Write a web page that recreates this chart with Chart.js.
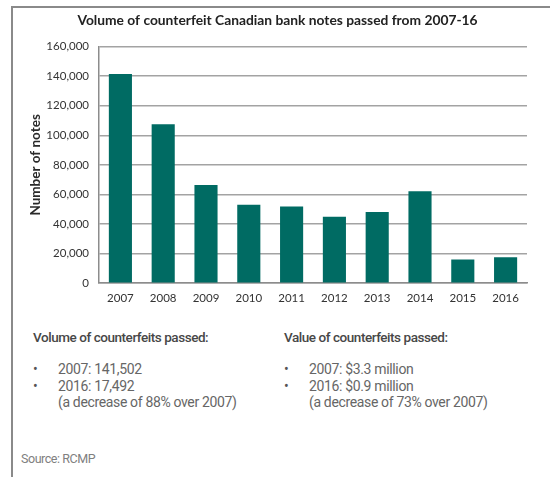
<!DOCTYPE html>
<html>
<head>
<meta charset="utf-8">
<script src="https://cdn.jsdelivr.net/npm/chart.js@4"></script>
<style>
    body { margin: 0; background: #fff; width: 550px; height: 477px; overflow: hidden; position: relative; font-family: Roboto, sans-serif; }
    .cadre { position: absolute; left: 11px; top: 6px; width: 545px; height: 480px; border-top: 2px solid #8a8a8a; border-left: 2px solid #8a8a8a; }
    .zone-graphique { position: absolute; left: 0; top: 0; width: 550px; height: 317px; }
    .bloc { position: absolute; top: 329px; color: #666; font-size: 14px; letter-spacing: -0.35px; }
    .bloc h4 { margin: 0 0 16px 0; font-size: 13.5px; font-weight: 500; color: #474747; letter-spacing: -0.45px; }
    .bloc ul { margin: 0; padding: 0; list-style: none; }
    .bloc li { position: relative; padding-left: 25px; line-height: 16.5px; }
    .bloc li.puce::before { content: "\2022"; position: absolute; left: 0; top: 0; color: #555; }
    .source { position: absolute; left: 21px; top: 451px; font-size: 12.5px; color: #808080; letter-spacing: -0.45px; }
</style>
</head>
<body>
<div class="cadre"></div>
<div class="zone-graphique"><canvas id="notesChart"></canvas></div>

<div class="bloc" style="left: 33px;">
    <h4>Volume of counterfeits passed:</h4>
    <ul>
        <li class="puce">2007: 141,502</li>
        <li class="puce">2016: 17,492</li>
        <li>(a decrease of 88% over 2007)</li>
    </ul>
</div>
<div class="bloc" style="left: 284px;">
    <h4>Value of counterfeits passed:</h4>
    <ul>
        <li class="puce">2007: $3.3 million</li>
        <li class="puce">2016: $0.9 million</li>
        <li>(a decrease of 73% over 2007)</li>
    </ul>
</div>
<div class="source">Source: RCMP</div>

<script>
const annees = ['2007', '2008', '2009', '2010', '2011', '2012', '2013', '2014', '2015', '2016'];
const billets = [141502, 107500, 66400, 53000, 51900, 44900, 48100, 62100, 16100, 17492];
const graduations = [0, 20000, 40000, 60000, 80000, 100000, 120000, 140000, 160000];

const COULEURS = {
    barre: '#006b63',
    grille: '#a3a3a3',
    axe: '#8c8c8c',
    texte: '#333333'
};

Chart.defaults.font.family = 'Lato, "Open Sans", sans-serif';
Chart.defaults.color = COULEURS.texte;

const ctx = document.getElementById('notesChart').getContext('2d');
new Chart(ctx, {
    type: 'bar',
    data: {
        labels: annees,
        datasets: [{
            label: 'Number of notes',
            data: billets,
            backgroundColor: COULEURS.barre,
            categoryPercentage: 1,
            barPercentage: 0.54
        }]
    },
    options: {
        responsive: true,
        maintainAspectRatio: false,
        animation: false,
        layout: { padding: { left: 28, right: 23, top: 0, bottom: 4 } },
        plugins: {
            legend: { display: false },
            tooltip: { enabled: false },
            title: {
                display: true,
                text: 'Volume of counterfeit Canadian bank notes passed from 2007-16',
                color: '#222',
                font: { size: 13.8, weight: 'bold' },
                padding: { top: 12, bottom: 18 },
                align: 'center'
            }
        },
        scales: {
            x: {
                grid: { display: false, drawTicks: false },
                border: { color: COULEURS.axe, width: 1.5 },
                ticks: { padding: 8, font: { size: 11.5 }, color: '#333' }
            },
            y: {
                min: 0,
                max: 160000,
                afterBuildTicks: axis => { axis.ticks = graduations.map(v => ({ value: v })); },
                afterFit: axis => { axis.width = 71; },
                grid: { color: COULEURS.grille, lineWidth: 1.5, drawTicks: false },
                border: { color: COULEURS.axe, width: 1.5 },
                ticks: {
                    padding: 10,
                    font: { size: 11.5 },
                    color: '#333',
                    callback: v => v.toLocaleString('en-US')
                },
                title: {
                    display: true,
                    text: 'Number of notes',
                    font: { size: 13.5, weight: 'bold' },
                    color: '#2a2a2a',
                    padding: { top: 0, bottom: 0 }
                }
            }
        }
    }
});
</script>
</body>
</html>
